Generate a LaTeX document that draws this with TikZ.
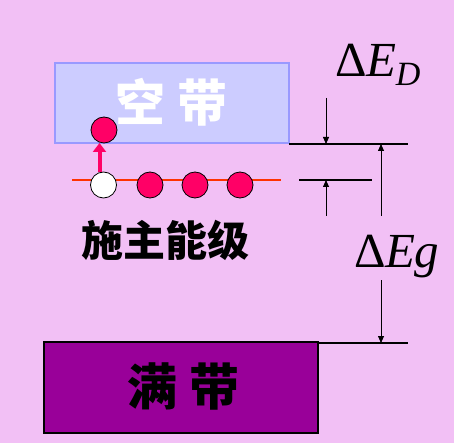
\documentclass[tikz,border=0pt]{standalone}
\usepackage{fontspec}
\setmainfont{Liberation Serif}
\newfontfamily\cjk{Noto Sans CJK SC}
\usetikzlibrary{arrows.meta}
\definecolor{bgc}{HTML}{F2C0F5}
\definecolor{emptyfill}{HTML}{CCCCFF}
\definecolor{emptyedge}{HTML}{9999FF}
\definecolor{fullfill}{HTML}{990099}
\definecolor{elec}{HTML}{FF0066}
\definecolor{donor}{HTML}{FF3300}
\tikzset{
  lvl/.style={line width=1.6pt, black},
  dim/.style={line width=0.8pt, black, -{Triangle[length=7pt,width=6pt]}},
  electron/.style={circle, draw=black, line width=0.8pt, fill=elec, minimum size=26pt, inner sep=0pt},
  hole/.style={electron, fill=white},
  bandtxt/.style={font=\cjk\bfseries\fontsize{50}{50}\selectfont, inner sep=0pt},
  lbl/.style={font=\fontsize{49}{49}\selectfont, inner sep=0pt}
}
\begin{document}
\begin{tikzpicture}[x=1pt,y=-1pt]
\fill[bgc] (0,0) rectangle (454,443);
\useasboundingbox (0,0) rectangle (454,443);
% empty band
\node[draw=emptyedge, line width=1.5pt, fill=emptyfill, minimum width=234pt, minimum height=80pt, inner sep=0pt] (cb) at (172,103) {};
\node[bandtxt, text=white] (cbt) at (171,102) {空\hspace{12pt}带};
% full band
\node[draw=black, line width=1.5pt, fill=fullfill, minimum width=274pt, minimum height=91pt, inner sep=0pt] (vb) at (181,387.5) {};
\node[bandtxt, text=black] (vbt) at (183.5,386) {满\hspace{12pt}带};
% level lines
\coordinate (cL) at (289,144); \coordinate (cR) at (408,144);
\draw[lvl] (cL) -- (cR);
\coordinate (vL) at (318,343); \coordinate (vR) at (408,343);
\draw[lvl] (vL) -- (vR);
\coordinate (dL) at (299,180); \coordinate (dR) at (372,180);
\draw[lvl] (dL) -- (dR);
\coordinate (rL) at (72,180); \coordinate (rR) at (281,180);
\draw[donor, line width=1.5pt] (rL) -- (rR);
% donors
\node[hole] (h) at (103.5,185) {};
\node[electron] (e1) at (150,185) {};
\node[electron] (e2) at (195,185) {};
\node[electron] (e3) at (240,185) {};
\node[electron] (ex) at (104,130) {};
\draw[elec, line width=4pt, -{Triangle[length=9pt,width=13pt]}] (99.5,172) -- (99.5,143);
% label
\node[font=\cjk\bfseries\fontsize{42}{42}\selectfont, inner sep=0pt] (dlab) at (165,240) {施主能级};
% Delta E_D
\node[lbl] (ed) at (378,65) {Δ\kern-1pt\textit{E}\raisebox{-9pt}{\fontsize{34}{34}\selectfont\textit{D}}};
\coordinate (a1s) at (326,98); \coordinate (a1e) at (326,144);
\draw[dim] (a1s) -- (a1e);
\coordinate (a2s) at (326,216); \coordinate (a2e) at (326,180);
\draw[dim] (a2s) -- (a2e);
% Delta Eg
\node[lbl] (eg) at (397,257) {Δ\kern-1pt\textit{Eg}};
\coordinate (a3s) at (381,216); \coordinate (a3e) at (381,144);
\draw[dim] (a3s) -- (a3e);
\coordinate (a4s) at (381,280); \coordinate (a4e) at (381,343);
\draw[dim] (a4s) -- (a4e);
\end{tikzpicture}
\end{document}
